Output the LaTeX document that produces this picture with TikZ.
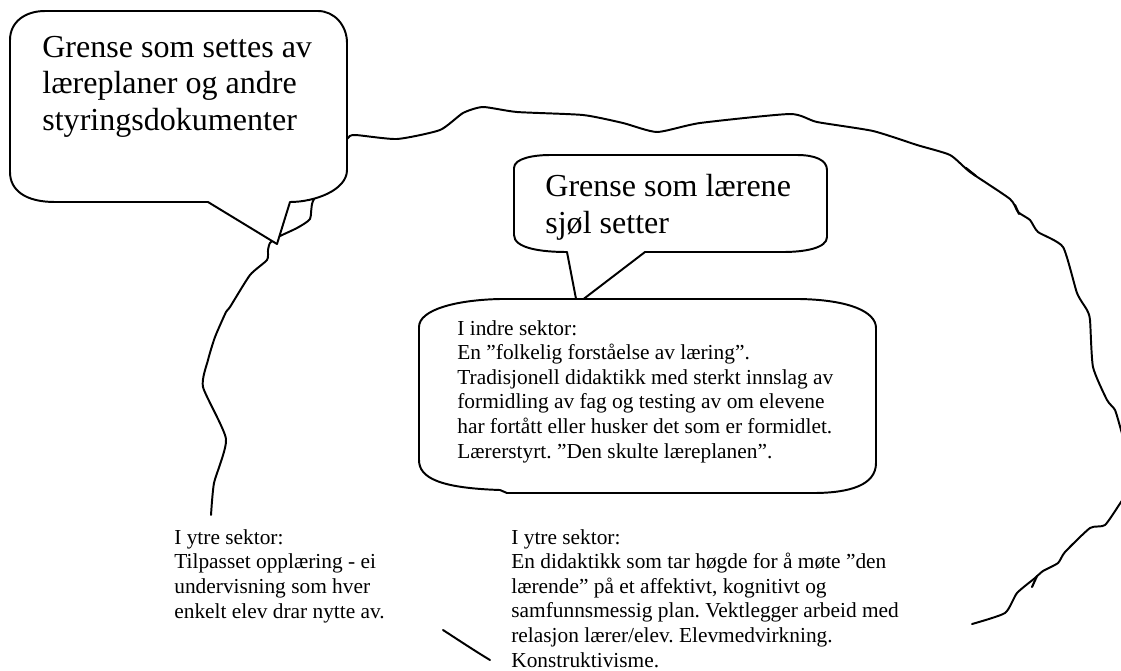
\documentclass[tikz,border=0pt]{standalone}
\usepackage{fontspec}
\setmainfont{Liberation Serif}
\frenchspacing
\begin{document}
\begin{tikzpicture}[x=0.5617pt,y=-0.5617pt,
  edge/.style={line width=1.1pt, line join=round, line cap=round},
  spur/.style={line width=1.2pt, line cap=round},
  bubble/.style={draw, fill=white, line width=1.1pt, line join=round},
  % multi-line text nodes are placed by the baseline of their last line
  bigtext/.style={font=\fontsize{18}{20.5}\selectfont, align=left, anchor=base west, inner sep=0pt},
  smalltext/.style={font=\fontsize{12}{13.8}\selectfont, align=left, anchor=base west, inner sep=0pt}]
\useasboundingbox (0,0) rectangle (1121,670);

% hand-drawn outer boundary, upper part
\draw[edge] plot[smooth, tension=0.35] coordinates {
  (211,515) (214,483) (226,439) (203,387) (208,360) (215,337) (226,312)
  (230,307) (250,275) (267,260) (268,250) (270,243) (278,237) (297,228)
  (310,219) (313,201) (335,165) (347,139) (355,135) (397,139) (440,130)
  (463,113) (483,107) (517,112) (583,115) (623,123) (657,132) (700,123)
  (790,114) (817,122) (873,131) (917,145) (950,155) (970,172) (1010,199)
  (1018,212) (1030,220) (1038,232) (1063,247) (1077,293) (1087,310)
  (1090,320) (1093,367) (1107,400) (1115,410) (1121,430) (1126,448)};
% small spurs along the boundary
\draw[spur] (966,168) -- (976,176);
\draw[spur] (1015,205) -- (1019,214);
\draw[spur] (1037,576) -- (1032,587);

% hand-drawn outer boundary, lower right part
\draw[edge] plot[smooth, tension=0.35] coordinates {
  (1127,494) (1121,502) (1105,525) (1090,528) (1065,552) (1058,563)
  (1043,571) (1035,578) (1017,593) (1005,613) (972,624)};

% short stroke at the bottom
\draw[edge] (443,630) .. controls (460,641) and (475,651) .. (490,660);

% callout: curriculum boundary
\path[bubble] (45,11) -- (318,11) .. controls (334,11) and (347,25) .. (347,43)
  -- (347,170) .. controls (347,190) and (315,202) .. (290,202)
  -- (277,244) -- (208,202) -- (55,202)
  .. controls (25,202) and (10,190) .. (10,172)
  -- (10,40) .. controls (10,22) and (25,11) .. (45,11) -- cycle;
\node[bigtext] (plan) at (42,130)
  {Grense som settes av\\læreplaner og andre\\styringsdokumenter};

% callout: the teachers' own boundary
\path[bubble] (550,155) -- (797,155) .. controls (815,155) and (827,160) .. (827,170)
  -- (827,237) .. controls (827,248) and (805,252) .. (783,252)
  -- (645,252) -- (577,304) -- (567,252)
  .. controls (540,252) and (514,248) .. (514,235)
  -- (514,168) .. controls (514,158) and (535,155) .. (550,155) -- cycle;
\node[bigtext] (own) at (545,233) {Grense som lærene\\sjøl setter};

% inner sector box
\path[bubble] (500,299) -- (800,299) .. controls (850,300) and (876,312) .. (876,328)
  -- (876,463) .. controls (876,485) and (850,493) .. (813,493)
  -- (507,493) -- (500,490)
  .. controls (440,488) and (419,478) .. (419,460)
  -- (419,327) .. controls (419,310) and (455,300) .. (500,299) -- cycle;
\node[smalltext] (inner) at (457,458)
  {I indre sektor:\\En ”folkelig forståelse av læring”.\\Tradisjonell didaktikk med sterkt innslag av\\formidling av fag og testing av om elevene\\har fortått eller husker det som er formidlet.\\Lærerstyrt. ”Den skulte læreplanen”.};

% outer sector texts
\node[smalltext] (outerleft) at (174,618)
  {I ytre sektor:\\Tilpasset opplæring - ei\\undervisning som hver\\enkelt elev drar nytte av.};
\node[smalltext] (outerright) at (511,667)
  {I ytre sektor:\\En didaktikk som tar høgde for å møte ”den\\lærende” på et affektivt, kognitivt og\\samfunnsmessig plan. Vektlegger arbeid med\\relasjon lærer/elev. Elevmedvirkning.\\Konstruktivisme.};
\end{tikzpicture}
\end{document}
